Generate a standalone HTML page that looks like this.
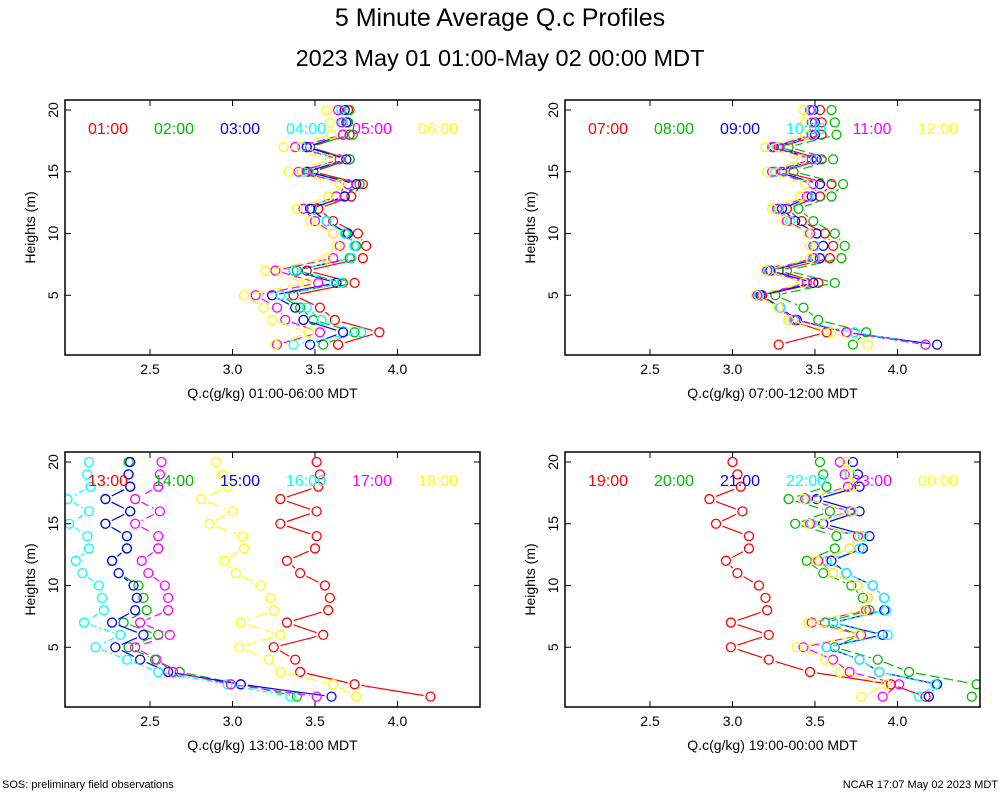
<!DOCTYPE html>
<html><head><meta charset="utf-8"><style>
body{margin:0;background:#fff;}
svg text{font-family:"Liberation Sans",sans-serif;}
</style></head><body>
<svg id="c" width="1000" height="800" xmlns="http://www.w3.org/2000/svg">
<text x="500" y="26" font-size="25" text-anchor="middle">5 Minute Average Q.c Profiles</text>
<text x="500" y="66" font-size="23.5" text-anchor="middle">2023 May 01 01:00-May 02 00:00 MDT</text>
<text x="2" y="788" font-size="11">SOS: preliminary field observations</text>
<text x="998" y="788" font-size="11" text-anchor="end">NCAR 17:07 May 02 2023 MDT</text>
</svg>
<script>
const heights=[20,19,18,17,16,15,14,13,12,11,10,9,8,7,6,5,4,3,2,1];
const xTicks=[2.5,3.0,3.5,4.0];
const yTicks=[5,10,15,20];
const labels1=["01:00","02:00","03:00","04:00","05:00","06:00"];
const labels2=["07:00","08:00","09:00","10:00","11:00","12:00"];
const labels3=["13:00","14:00","15:00","16:00","17:00","18:00"];
const labels4=["19:00","20:00","21:00","22:00","23:00","00:00"];
const p1s1=[3.70,3.70,3.71,3.47,3.71,3.49,3.79,3.72,3.52,3.61,3.76,3.81,3.79,3.45,3.74,3.37,3.53,3.62,3.89,3.64];
const p1s2=[3.71,3.70,3.73,3.45,3.71,3.46,3.77,3.68,3.48,3.57,3.69,3.75,3.71,3.39,3.67,3.29,3.41,3.49,3.74,3.55];
const p1s3=[3.68,3.69,3.67,3.45,3.69,3.45,3.75,3.68,3.47,3.57,3.70,3.74,3.72,3.37,3.63,3.24,3.38,3.43,3.67,3.47];
const p1s4=[3.66,3.67,3.67,3.42,3.65,3.42,3.70,3.63,3.43,3.57,3.68,3.74,3.72,3.37,3.66,3.29,3.45,3.54,3.78,3.37];
const p1s5=[3.64,3.66,3.67,3.38,3.65,3.40,3.70,3.63,3.43,3.50,3.61,3.65,3.61,3.26,3.52,3.14,3.27,3.32,3.53,3.27];
const p1s6=[3.57,3.59,3.60,3.31,3.59,3.34,3.65,3.58,3.39,3.47,3.61,3.63,3.57,3.20,3.45,3.07,3.19,3.24,3.46,3.26];
const p2s1=[3.53,3.54,3.54,3.28,3.54,3.30,3.60,3.53,3.33,3.42,3.56,3.61,3.59,3.28,3.52,3.18,3.29,3.34,3.57,3.28];
const p2s2=[3.60,3.62,3.63,3.34,3.61,3.37,3.67,3.60,3.40,3.49,3.62,3.68,3.66,3.33,3.62,3.26,3.43,3.52,3.81,3.73];
const p2s3=[3.49,3.50,3.50,3.25,3.51,3.26,3.53,3.48,3.30,3.38,3.51,3.55,3.53,3.23,3.49,3.17,3.29,3.39,3.69,4.24];
const p2s4=[3.48,3.49,3.49,3.27,3.50,3.26,3.49,3.46,3.28,3.35,3.46,3.50,3.50,3.22,3.45,3.16,3.29,3.37,3.74,4.17];
const p2s5=[3.47,3.48,3.48,3.24,3.48,3.24,3.49,3.45,3.27,3.33,3.47,3.49,3.49,3.21,3.45,3.15,3.28,3.38,3.69,4.17];
const p2s6=[3.43,3.44,3.44,3.20,3.42,3.21,3.44,3.41,3.24,3.32,3.46,3.47,3.47,3.20,3.43,3.14,3.28,3.34,3.60,3.82];
const p3s1=[3.51,3.53,3.52,3.29,3.51,3.29,3.51,3.50,3.33,3.41,3.56,3.59,3.58,3.33,3.55,3.25,3.38,3.41,3.74,4.20];
const p3s2=[2.37,2.37,2.38,2.23,2.38,2.23,2.36,2.36,2.27,2.31,2.43,2.46,2.48,2.34,2.55,2.37,2.53,2.68,3.05,3.39];
const p3s3=[2.38,2.37,2.38,2.23,2.38,2.23,2.36,2.36,2.27,2.31,2.40,2.42,2.41,2.27,2.46,2.29,2.44,2.61,3.05,3.60];
const p3s4=[2.13,2.12,2.14,2.00,2.13,2.01,2.12,2.13,2.05,2.09,2.19,2.21,2.22,2.10,2.32,2.17,2.36,2.55,2.97,3.35];
const p3s5=[2.57,2.56,2.55,2.41,2.56,2.41,2.55,2.55,2.45,2.49,2.59,2.61,2.61,2.44,2.62,2.41,2.54,2.64,2.99,3.51];
const p3s6=[2.90,2.94,2.97,2.81,3.00,2.86,3.06,3.07,2.95,3.02,3.17,3.23,3.25,3.05,3.29,3.04,3.22,3.29,3.61,3.75];
const p4s1=[3.00,3.03,3.05,2.86,3.06,2.90,3.10,3.10,2.96,3.03,3.16,3.20,3.21,2.99,3.22,2.99,3.22,3.47,3.96,4.17];
const p4s2=[3.53,3.55,3.57,3.34,3.59,3.38,3.63,3.62,3.45,3.55,3.72,3.79,3.83,3.56,3.77,3.62,3.88,4.07,4.48,4.45];
const p4s3=[3.73,3.76,3.77,3.51,3.77,3.55,3.83,3.79,3.60,3.69,3.85,3.92,3.92,3.61,3.91,3.57,3.77,3.89,4.24,4.19];
const p4s4=[3.69,3.71,3.73,3.45,3.72,3.48,3.79,3.77,3.57,3.69,3.85,3.92,3.93,3.61,3.94,3.57,3.77,3.89,4.23,4.13];
const p4s5=[3.65,3.68,3.70,3.44,3.71,3.47,3.76,3.71,3.52,3.61,3.76,3.82,3.81,3.48,3.78,3.43,3.61,3.71,4.01,3.91];
const p4s6=[3.69,3.72,3.73,3.43,3.73,3.46,3.77,3.71,3.51,3.61,3.76,3.82,3.80,3.46,3.77,3.39,3.56,3.65,3.93,3.78];

const colors=["#ff0000","#00bb00","#0000ff","#00ffff","#ff00ff","#ffff00"];
const dashes=["none","10,4","none","6,3,2,3","8,4","12,6"];
const NS="http://www.w3.org/2000/svg";
const svg=document.getElementById('c');
function mk(tag,attrs,parent){const e=document.createElementNS(NS,tag);for(const k in attrs)e.setAttribute(k,attrs[k]);(parent||svg).appendChild(e);return e;}

const panels=[
 {x0:65,y0:100,series:[p1s1,p1s2,p1s3,p1s4,p1s5,p1s6],labels:labels1,title:"Q.c(g/kg) 01:00-06:00 MDT"},
 {x0:565,y0:100,series:[p2s1,p2s2,p2s3,p2s4,p2s5,p2s6],labels:labels2,title:"Q.c(g/kg) 07:00-12:00 MDT"},
 {x0:65,y0:452,series:[p3s1,p3s2,p3s3,p3s4,p3s5,p3s6],labels:labels3,title:"Q.c(g/kg) 13:00-18:00 MDT"},
 {x0:565,y0:452,series:[p4s1,p4s2,p4s3,p4s4,p4s5,p4s6],labels:labels4,title:"Q.c(g/kg) 19:00-00:00 MDT"}
];
const W=415,H=255,R=4.5;
panels.forEach((p,pi)=>{
 const g=mk('g',{});
 
 
 const xs=v=>p.x0+85+(v-2.5)*165;
 const ys=h=>p.y0+257-h*12.35;
 const clipId='clip'+pi;
 const cp=mk('clipPath',{id:clipId},g);
 mk('rect',{x:p.x0,y:p.y0,width:W,height:H},cp);
 xTicks.forEach(t=>{
  const x=xs(t);
  const tk=mk('line',{x1:x,x2:x,y1:p.y0+H,y2:p.y0+H-6,stroke:'#000'},g);
  
  
  mk('line',{x1:x,x2:x,y1:p.y0,y2:p.y0+6,stroke:'#000'},g);
  const tl=mk('text',{x:x,y:p.y0+H+19,'font-size':14,'text-anchor':'middle'},g);
  tl.textContent=t.toFixed(1);
  
  
 });
 yTicks.forEach(t=>{
  const y=ys(t);
  const tk=mk('line',{x1:p.x0,x2:p.x0+6,y1:y,y2:y,stroke:'#000'},g);
  
  
  mk('line',{x1:p.x0+W,x2:p.x0+W-6,y1:y,y2:y,stroke:'#000'},g);
  const tl=mk('text',{x:p.x0-12,y:y+5,'font-size':14,'text-anchor':'middle',transform:`rotate(-90 ${p.x0-12} ${y})`},g);
  tl.textContent=t;
  
  
 });
 const yt=mk('text',{x:0,y:0,'font-size':14,'text-anchor':'middle',transform:`translate(${p.x0-30},${p.y0+H/2}) rotate(-90)`},g);
 yt.textContent='Heights (m)';
 
 
 const xt=mk('text',{x:p.x0+W/2,y:p.y0+H+43,'font-size':14,'text-anchor':'middle'},g);
 xt.textContent=p.title;
 
 
 const plot=mk('g',{'clip-path':`url(#${clipId})`},g);
 p.series.forEach((s,si)=>{
  const sg=mk('g',{},plot);
  
  
  for(let i=0;i<s.length-1;i++){
   const xa=xs(s[i]),ya=ys(heights[i]),xb=xs(s[i+1]),yb=ys(heights[i+1]);
   const dx=xb-xa,dy=yb-ya,L=Math.hypot(dx,dy);
   if(L<=2*R+5)continue;
   const ux=dx/L,uy=dy/L;
   const ln=mk('line',{x1:xa+ux*(R+2.5),y1:ya+uy*(R+2.5),x2:xb-ux*(R+2.5),y2:yb-uy*(R+2.5),stroke:colors[si],'stroke-width':1.2},sg);
   if(dashes[si]!=='none')ln.setAttribute('stroke-dasharray',dashes[si]);
   
   
  }
  s.forEach((v,i)=>{
   const c=mk('circle',{cx:xs(v),cy:ys(heights[i]),r:R,fill:'none',stroke:colors[si],'stroke-width':1.3},sg);
   
   
  });
 });
 p.labels.forEach((lb,si)=>{
  const t=mk('text',{x:p.x0+43+si*66,y:p.y0+34,'font-size':16,'text-anchor':'middle',fill:colors[si]},g);
  t.textContent=lb;
  
  
 });
 const fr=mk('rect',{x:p.x0,y:p.y0,width:W,height:H,fill:'none',stroke:'#000','stroke-width':1.5},g);
 
 
});
</script>
</body></html>
